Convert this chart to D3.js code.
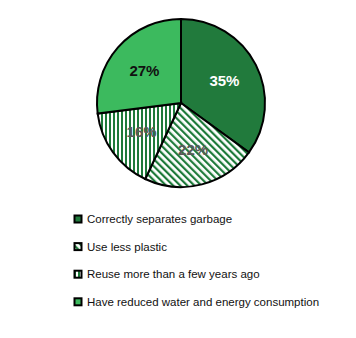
<!DOCTYPE html>
<html>
<head>
<meta charset="utf-8">
<script src="https://cdn.jsdelivr.net/npm/d3@7"></script>
<style>
  body { margin: 0; background: #fff; }
  text { font-family: "Liberation Sans", Arial, sans-serif; }
</style>
</head>
<body>
<div id="chart"></div>
<script>
// chart data
var categories = ["Correctly separates garbage", "Use less plastic", "Reuse more than a few years ago", "Have reduced water and energy consumption"];
var values = [35, 22, 16, 27];
var labels = ["35%", "22%", "16%", "27%"];

var w = 356, h = 338;
var cx = 181, cy = 103, r = 84;

var svg = d3.select("#chart").append("svg")
    .attr("width", w)
    .attr("height", h);

// patterns for the striped slices
var defs = svg.append("defs");
var diag = defs.append("pattern")
    .attr("id", "diag")
    .attr("patternUnits", "userSpaceOnUse")
    .attr("width", 5).attr("height", 5)
    .attr("patternTransform", "rotate(-45)");
diag.append("rect").attr("width", 5).attr("height", 5).attr("fill", "#fff");
diag.append("rect").attr("width", 2.2).attr("height", 5).attr("fill", "#1e7a3a");

var vert = defs.append("pattern")
    .attr("id", "vert")
    .attr("patternUnits", "userSpaceOnUse")
    .attr("width", 4).attr("height", 4);
vert.append("rect").attr("width", 4).attr("height", 4).attr("fill", "#fff");
vert.append("rect").attr("width", 2).attr("height", 4).attr("fill", "#1e7a3a");

var fills = ["#217a3c", "url(#diag)", "url(#vert)", "#3cba5e"];
var labelColors = ["#fff", "#595959", "#595959", "#111"];

var pie = d3.pie().sort(null).value(d => d);
var arcs = pie(values);
var arc = d3.arc().innerRadius(0).outerRadius(r);
var labelArc = d3.arc().innerRadius(r * 0.58).outerRadius(r * 0.58);

var g = svg.append("g").attr("transform", `translate(${cx},${cy})`);

g.selectAll("path")
    .data(arcs)
    .enter().append("path")
    .attr("d", arc)
    .attr("fill", (d, i) => fills[i])
    .attr("stroke", "#000")
    .attr("stroke-width", 2);

g.selectAll(".lbl")
    .data(arcs)
    .enter().append("text")
    .attr("class", "lbl")
    .attr("transform", d => `translate(${labelArc.centroid(d)})`)
    .attr("text-anchor", "middle")
    .attr("dy", "0.35em")
    .attr("font-size", 15)
    .attr("font-weight", "bold")
    .attr("fill", (d, i) => labelColors[i])
    .text((d, i) => labels[i]);

// legend
var legend = svg.append("g").attr("transform", "translate(74,219)");
var item = legend.selectAll("g")
    .data(categories)
    .enter().append("g")
    .attr("transform", (d, i) => `translate(0,${i * 27.6})`);

item.append("rect")
    .attr("x", 0.5).attr("y", -3.5)
    .attr("width", 7).attr("height", 7)
    .attr("fill", (d, i) => fills[i])
    .attr("stroke", "#000")
    .attr("stroke-width", 2);

item.append("text")
    .attr("x", 13)
    .attr("dy", "0.35em")
    .attr("font-size", 11.5)
    .attr("fill", "#111")
    .text(d => d);
</script>
</body>
</html>
